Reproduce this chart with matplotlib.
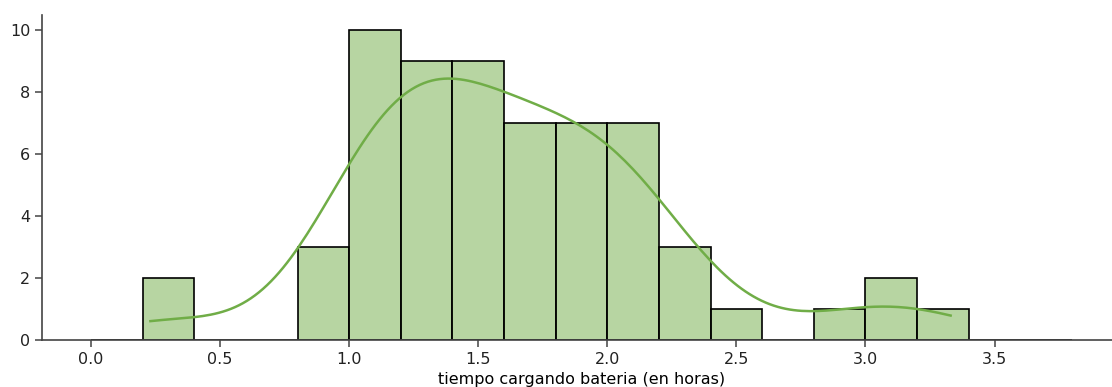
import numpy as np
import pandas as pd
import seaborn as sns
import matplotlib
matplotlib.use("Agg")
import matplotlib.pyplot as plt

# charging times (hours)
tiempos_02_04 = [0.23, 0.36]
tiempos_08_10 = [0.93, 0.96, 0.99]
tiempos_10_12 = [1.02, 1.04, 1.06, 1.08, 1.10, 1.12, 1.14, 1.16, 1.18, 1.19]
tiempos_12_14 = [1.21, 1.23, 1.25, 1.27, 1.30, 1.32, 1.34, 1.36, 1.38]
tiempos_14_16 = [1.41, 1.43, 1.45, 1.47, 1.50, 1.52, 1.54, 1.56, 1.58]
tiempos_16_18 = [1.62, 1.65, 1.68, 1.70, 1.73, 1.75, 1.78]
tiempos_18_20 = [1.82, 1.85, 1.88, 1.90, 1.93, 1.95, 1.98]
tiempos_20_22 = [2.01, 2.03, 2.05, 2.07, 2.09, 2.12, 2.15]
tiempos_22_24 = [2.21, 2.24, 2.30]
tiempos_24_26 = [2.45]
tiempos_28_30 = [2.92]
tiempos_30_32 = [3.05, 3.12]
tiempos_32_34 = [3.33]

tiempos = (tiempos_02_04 + tiempos_08_10 + tiempos_10_12 + tiempos_12_14
           + tiempos_14_16 + tiempos_16_18 + tiempos_18_20 + tiempos_20_22
           + tiempos_22_24 + tiempos_24_26 + tiempos_28_30 + tiempos_30_32
           + tiempos_32_34)
df = pd.DataFrame({"tiempo cargando bateria (en horas)": tiempos})

bordes = np.linspace(0, 3.8, 20)  # bins of 0.2 h

plt.rcParams["font.family"] = ["DejaVu Sans"]
plt.rcParams["font.size"] = 11.5

fig = plt.figure(figsize=(11.12, 3.87), dpi=100)
ax = fig.add_axes([42 / 1112, 47 / 387, 1079 / 1112, 325 / 387])

sns.histplot(data=df, x="tiempo cargando bateria (en horas)", bins=bordes,
             kde=True, color="#70AD47", edgecolor="black", linewidth=1.2,
             alpha=0.5, line_kws={"linewidth": 1.8}, ax=ax)

ax.set_xlim(-0.19, 3.99)
ax.set_ylim(0, 10.5)
ax.set_ylabel("")
ax.set_xticks([0.0, 0.5, 1.0, 1.5, 2.0, 2.5, 3.0, 3.5])
ax.set_yticks([0, 2, 4, 6, 8, 10])
sns.despine(ax=ax)
for s in ["left", "bottom"]:
    ax.spines[s].set_color("#444444")
    ax.spines[s].set_linewidth(1.2)
ax.tick_params(colors="#444444", labelcolor="#222222", width=1.1, length=5)

fig.savefig("out.png", dpi=100)
